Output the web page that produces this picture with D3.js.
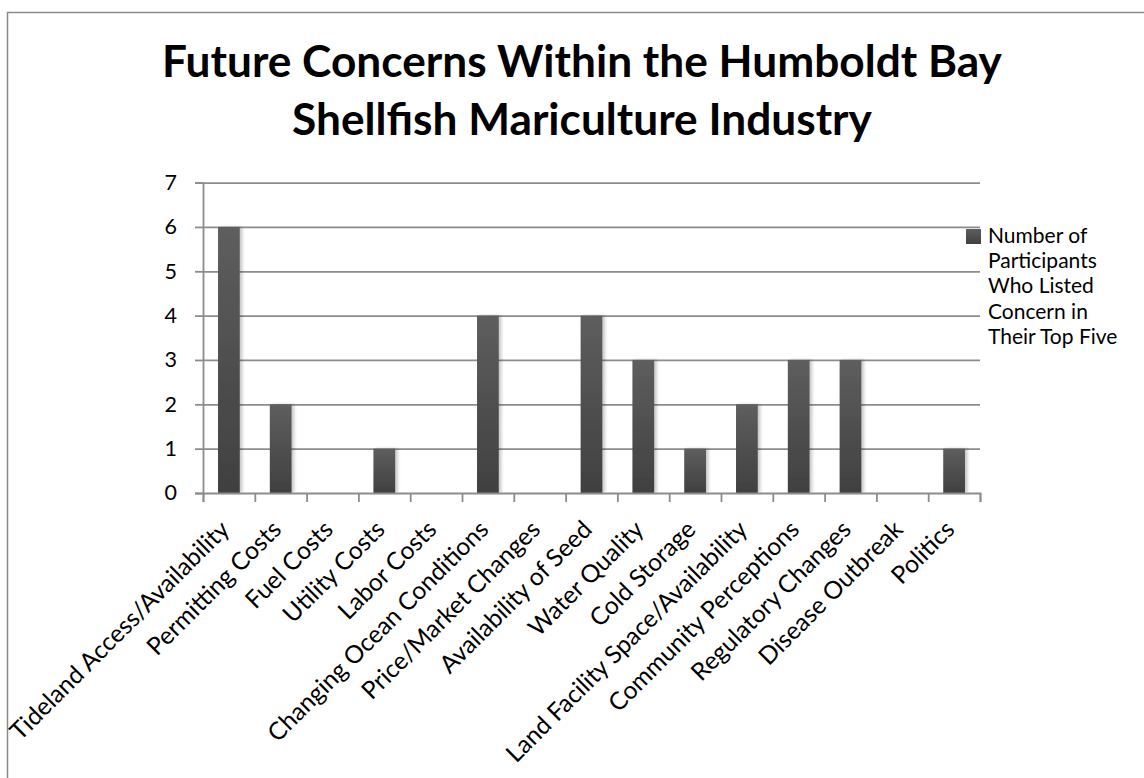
<!DOCTYPE html>
<html>
<head>
<meta charset="utf-8">
<script src="https://cdn.jsdelivr.net/npm/d3@7"></script>
<style>
  html, body { margin: 0; padding: 0; background: #fff; }
  svg { display: block; }
</style>
</head>
<body>
<svg id="chart" width="1144" height="778"></svg>
<script>
// ---- data ----
const categories = [
  "Tideland Access/Availability", "Permitting Costs", "Fuel Costs", "Utility Costs",
  "Labor Costs", "Changing Ocean Conditions", "Price/Market Changes", "Availability of Seed",
  "Water Quality", "Cold Storage", "Land Facility Space/Availability", "Community Perceptions",
  "Regulatory Changes", "Disease Outbreak", "Politics"
];
const values = [6, 2, 0, 1, 0, 4, 0, 4, 3, 1, 2, 3, 3, 0, 1];
const yTicks = [0, 1, 2, 3, 4, 5, 6, 7];
const titleLines = ["Future Concerns Within the Humboldt Bay", "Shellfish Mariculture Industry"];
const legendLines = ["Number of", "Participants", "Who Listed", "Concern in", "Their Top Five"];

// ---- layout ----
const W = 1144, H = 778;
const plot = { left: 203, right: 980, top: 182.6, bottom: 493 };
const FONT = "Lato, 'Open Sans', 'Liberation Sans', sans-serif";

const svg = d3.select("#chart");

function fit(sel, target) {
  const node = sel.node();
  const base = parseFloat(sel.attr("font-size"));
  const w = node.getComputedTextLength();
  const fs = base * target / w;
  sel.attr("font-size", fs);
  return fs;
}

const defs = svg.append("defs");
const grad = defs.append("linearGradient").attr("id", "barGrad")
  .attr("x1", 0).attr("y1", 0).attr("x2", 0).attr("y2", 1);
grad.append("stop").attr("offset", "0%").attr("stop-color", "#5e5e5e");
grad.append("stop").attr("offset", "100%").attr("stop-color", "#404040");
const filt = defs.append("filter").attr("id", "shadow")
  .attr("x", "-20%").attr("y", "-5%").attr("width", "160%").attr("height", "110%");
filt.append("feDropShadow").attr("dx", 2.5).attr("dy", 0).attr("stdDeviation", 1.5)
  .attr("flood-color", "#000").attr("flood-opacity", 0.22);

// outer border (right/bottom edges fall outside the view)
svg.append("rect").attr("x", 7.5).attr("y", 12.5).attr("width", W + 20).attr("height", H + 20)
  .attr("fill", "#fff").attr("stroke", "#8a8a8a").attr("stroke-width", 1.5);

// scales
const x = d3.scaleBand().domain(categories).range([plot.left, plot.right])
  .paddingInner(0.58).paddingOuter(0.29);
const xEdge = d3.scaleLinear().domain([0, categories.length]).range([plot.left, plot.right]);
const y = d3.scaleLinear().domain([0, 7]).range([plot.bottom, plot.top]);

// gridlines
const grid = svg.append("g").attr("transform", `translate(${plot.left},0)`)
  .call(d3.axisLeft(y).tickValues(yTicks.filter(d => d > 0)).tickSize(-(plot.right - plot.left)).tickFormat(""));
grid.select(".domain").remove();
grid.selectAll("line").attr("stroke", "#8c8c8c").attr("stroke-width", 1.8);

// bars
svg.append("g").selectAll("rect").data(values).join("rect")
  .attr("x", (d, i) => x(categories[i]))
  .attr("width", x.bandwidth())
  .attr("y", d => y(d))
  .attr("height", d => y(0) - y(d))
  .attr("fill", "url(#barGrad)")
  .attr("filter", "url(#shadow)");

// y axis
const yAx = svg.append("g").attr("transform", `translate(${plot.left},0)`)
  .call(d3.axisLeft(y).tickValues(yTicks).tickSize(8).tickPadding(18).tickFormat(d3.format("d")));
yAx.select(".domain").attr("stroke", "#8c8c8c").attr("stroke-width", 1.8);
yAx.selectAll("line").attr("stroke", "#8c8c8c").attr("stroke-width", 1.8);
yAx.selectAll("text").attr("font-family", FONT).attr("font-size", 21.5).attr("fill", "#000");

// x axis (ticks at category boundaries)
const xAx = svg.append("g").attr("transform", `translate(0,${plot.bottom})`)
  .call(d3.axisBottom(xEdge).tickValues(d3.range(0, categories.length + 1)).tickSize(9).tickFormat(""));
xAx.select(".domain").attr("stroke", "#8c8c8c").attr("stroke-width", 1.8);
xAx.selectAll("line").attr("stroke", "#8c8c8c").attr("stroke-width", 1.8);

// x labels
const xl = svg.append("g").selectAll("text").data(categories).join("text")
  .attr("font-family", FONT).attr("font-size", 20).attr("fill", "#000")
  .attr("text-anchor", "end")
  .attr("transform", d => `translate(${x(d) + x.bandwidth() / 2 + 2},${plot.bottom + 38}) rotate(-45)`)
  .text(d => d);
const xfs = fit(d3.select(xl.nodes()[0]), 298);
xl.attr("font-size", xfs);

// title
const title = svg.append("g").selectAll("text").data(titleLines).join("text")
  .attr("x", 582).attr("y", (d, i) => 77 + i * 58)
  .attr("text-anchor", "middle").attr("font-family", FONT).attr("font-weight", "bold")
  .attr("font-size", 42).attr("fill", "#000").text(d => d);
const tfs = fit(d3.select(title.nodes()[0]), 840);
title.attr("font-size", tfs);

// legend
const lg = svg.append("g");
lg.append("rect").attr("x", 966).attr("y", 229).attr("width", 15).attr("height", 15)
  .attr("fill", "url(#barGrad)");
lg.selectAll("text").data(legendLines).join("text")
  .attr("x", 988).attr("y", (d, i) => 243 + i * 25.2)
  .attr("font-family", FONT).attr("font-size", 21).attr("fill", "#000").text(d => d);
</script>
</body>
</html>
